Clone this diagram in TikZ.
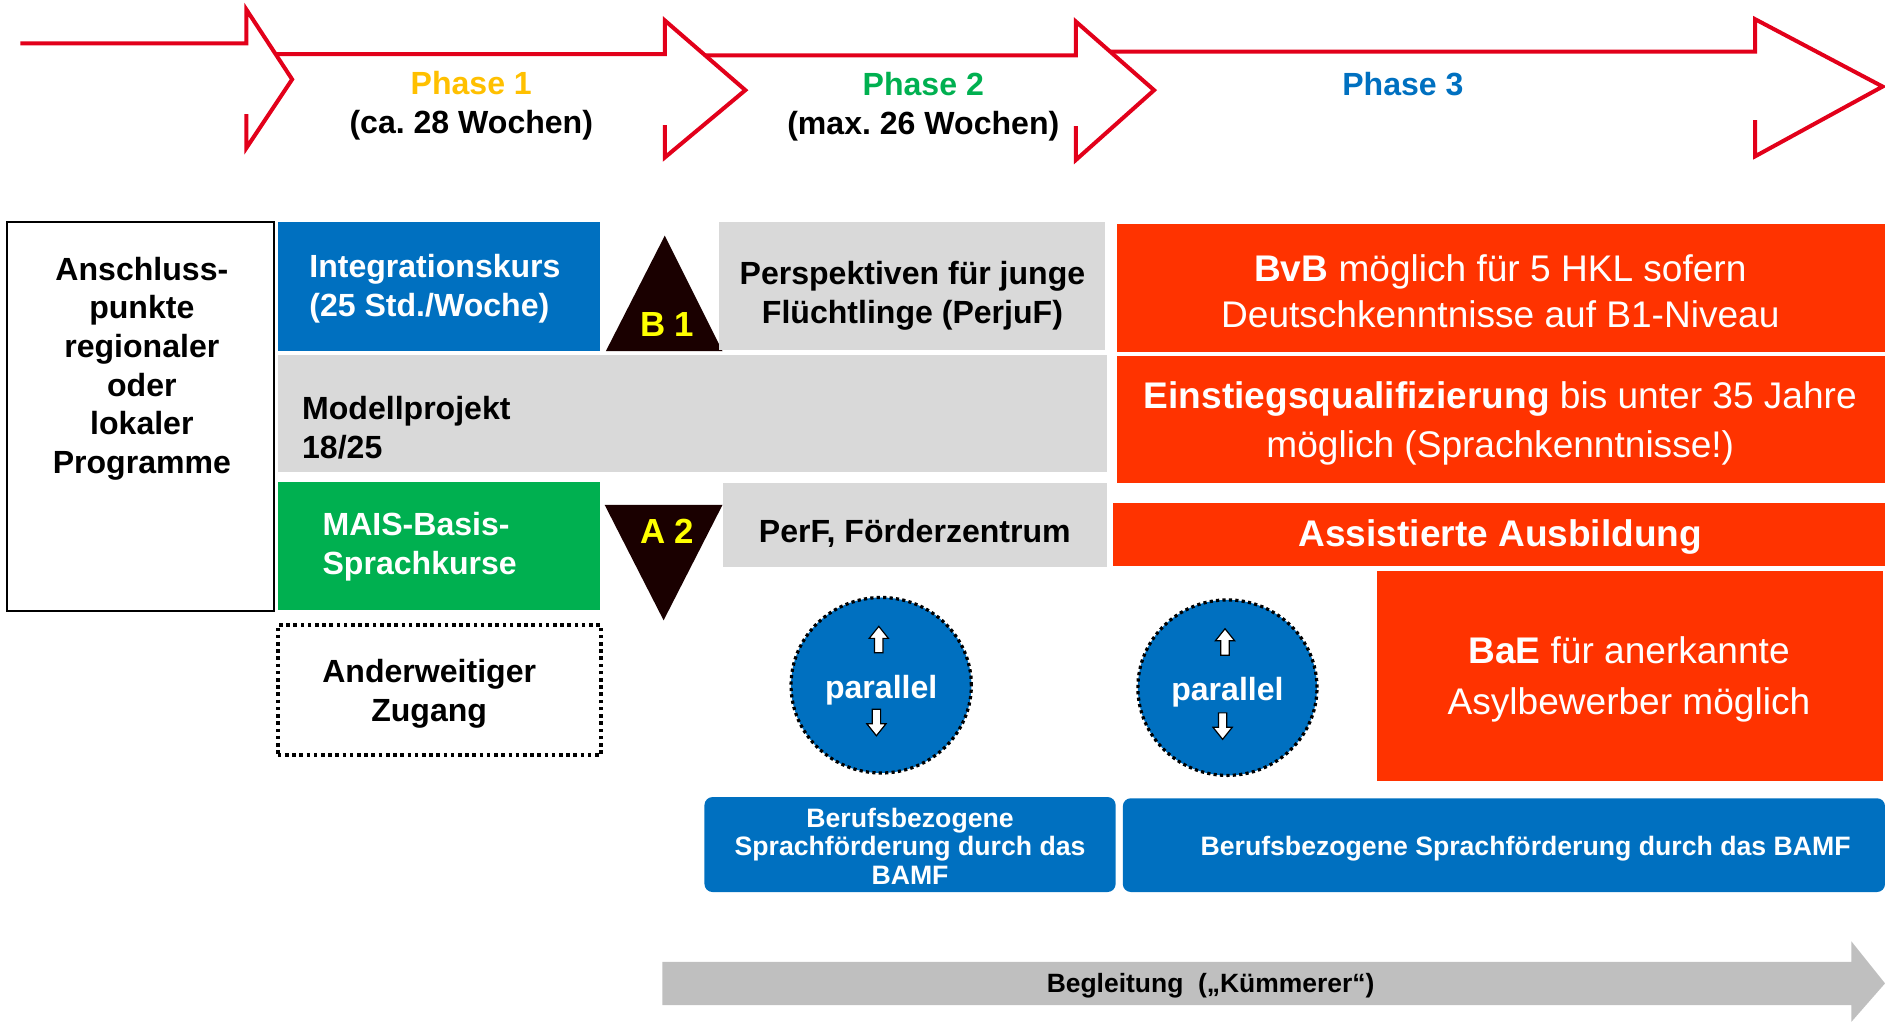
\documentclass[tikz,border=0pt]{standalone}
\usepackage{fontspec}
\setmainfont{Liberation Sans}
\usetikzlibrary{shapes.geometric}
\definecolor{phred}{RGB}{226,0,26}
\definecolor{phyellow}{RGB}{255,192,0}
\definecolor{msblue}{RGB}{0,112,192}
\definecolor{msgray}{RGB}{217,217,217}
\definecolor{msgreen}{RGB}{0,176,80}
\definecolor{msred}{RGB}{255,51,0}
\definecolor{trib}{RGB}{26,0,0}
\definecolor{arrgray}{RGB}{191,191,191}
\definecolor{labyellow}{RGB}{255,255,0}
\frenchspacing
\begin{document}
\begin{tikzpicture}[x=0.6pt,y=-0.6pt,
  phasearrow/.style={draw=phred, line width=2pt, miter limit=10},
  block/.style={rectangle, inner sep=0pt, outer sep=0pt, anchor=north west},
  fsB/.style={font=\fontsize{16}{19.3}\selectfont\bfseries, inner sep=0pt},
  fsR/.style={font=\fontsize{18.5}{23.5}\selectfont, text=white, align=center, inner sep=0pt},
  fsS/.style={font=\fontsize{13.3}{14.4}\selectfont\bfseries, text=white, align=center, inner sep=0pt},
  fsTri/.style={font=\fontsize{17.4}{20}\selectfont\bfseries, text=labyellow, inner sep=0pt},
  parcircle/.style={ellipse, fill=msblue, draw=black, line width=1.6pt, dash pattern=on 1.6pt off 1.6pt, inner sep=0pt},
  bamfbox/.style={block, fill=msblue, rounded corners=4pt},
  uparr/.pic={\draw[fill=white, line width=0.6pt, line join=miter] (0,-11) -- (8,-1) -- (3.5,-1) -- (3.5,11) -- (-3.5,11) -- (-3.5,-1) -- (-8,-1) -- cycle;}
]
\useasboundingbox (0,0) rectangle (1568,850);

% top phase arrows
\draw[phasearrow] (17,36) -- (205,36) -- (205,8) -- (243,66) -- (205,123) -- (205,95);
\draw[phasearrow] (229,45) -- (553,45) -- (553,17) -- (620,75) -- (553,131) -- (553,104);
\draw[phasearrow] (587,46) -- (895,46) -- (895,18) -- (960,75) -- (895,133) -- (895,105);
\draw[phasearrow] (924,43) -- (1460,43) -- (1460,16) -- (1566,72) -- (1460,130) -- (1460,100);

\node[fsB, text=phyellow] (ph1) at (392,69) {Phase 1};
\node[fsB] (ph1w) at (392,104) {(ca. 28 Wochen)};
\node[fsB, text=msgreen] (ph2) at (768,70) {Phase 2};
\node[fsB] (ph2w) at (768,105) {(max. 26 Wochen)};
\node[fsB, text=msblue] (ph3) at (1167,70) {Phase 3};

% left column
\node[block, draw=black, line width=1pt, fill=white, minimum width=133.2pt, minimum height=193.8pt] (anschl) at (6,185) {};
\node[fsB, align=center] (anschlT) at (118,306.5) {Anschluss-\\punkte\\regionaler\\oder\\lokaler\\Programme};

\node[block, fill=msblue, minimum width=160.8pt, minimum height=64.2pt] (integ) at (231,185) {};
\node[fsB, text=white, anchor=west, align=left] (integT) at (257,240) {Integrationskurs\\(25 Std./Woche)};

\node[block, fill=msgray, minimum width=414pt, minimum height=58.8pt] (modell) at (231,295) {};
\node[fsB, anchor=west, align=left] (modellT) at (251,356) {Modellprojekt\\18/25};

\node[block, fill=msgreen, minimum width=160.8pt, minimum height=63.6pt] (mais) at (231,401) {};
\node[fsB, text=white, anchor=west, align=left] (maisT) at (268,455) {MAIS-Basis-\\Sprachkurse};

\node[block, draw=black, line width=1.8pt, dash pattern=on 1.8pt off 1.8pt, minimum width=161.4pt, minimum height=64.8pt] (anderw) at (231,520) {};
\node[fsB, align=center] (anderwT) at (357,577) {Anderweitiger\\Zugang};

% triangles
\fill[trib] (553,196) -- (601,292) -- (504,292) -- cycle;
\node[fsTri] (b1) at (555,270) {B 1};
\fill[trib] (503,420) -- (601,420) -- (552,516) -- cycle;
\node[fsTri] (a2) at (555,442) {A 2};

% phase 2 boxes
\node[block, fill=msgray, minimum width=192.6pt, minimum height=63.6pt] (perjuf) at (598,185) {};
\node[fsB, align=center] (perjufT) at (759,246) {Perspektiven für junge\\Flüchtlinge (PerjuF)};
\node[block, fill=msgray, minimum width=192pt, minimum height=42pt] (perf) at (601,402) {};
\node[fsB] (perfT) at (761,444) {PerF, Förderzentrum};

% phase 3 red boxes
\node[block, fill=msred, minimum width=383.4pt, minimum height=64.2pt] (bvb) at (929,186) {};
\node[fsR, font=\fontsize{18.5}{22.8}\selectfont] (bvbT) at (1248,242) {\textbf{BvB} möglich für 5 HKL sofern\\Deutschkenntnisse auf B1-Niveau};
\node[block, fill=msred, minimum width=383.4pt, minimum height=63.6pt] (einst) at (929,296) {};
\node[fsR, font=\fontsize{18.5}{24.6}\selectfont] (einstT) at (1248,352) {\textbf{Einstiegsqualifizierung} bis unter 35 Jahre\\möglich (Sprachkenntnisse!)};
\node[block, fill=msred, minimum width=385.2pt, minimum height=31.8pt] (assist) at (926,418) {};
\node[fsR, font=\fontsize{18.5}{23.5}\selectfont\bfseries] (assistT) at (1248,447) {Assistierte Ausbildung};
\node[block, fill=msred, minimum width=252.6pt, minimum height=105pt] (bae) at (1145,475) {};
\node[fsR, font=\fontsize{18.5}{25.2}\selectfont] (baeT) at (1355,565) {\textbf{BaE} für anerkannte\\Asylbewerber möglich};

% parallel circles
\node[parcircle, minimum width=90pt, minimum height=87.6pt] (par1) at (733,570) {};
\node[fsB, text=white] (par1T) at (733,574) {parallel};
\pic at (731,532) {uparr};
\pic[rotate=180] at (729,601) {uparr};
\node[parcircle, minimum width=89.4pt, minimum height=87.6pt] (par2) at (1021,572) {};
\node[fsB, text=white] (par2T) at (1021,576) {parallel};
\pic at (1019,534) {uparr};
\pic[rotate=180] at (1017,604) {uparr};

% BAMF boxes
\node[bamfbox, minimum width=205.2pt, minimum height=47.4pt] (bamf1) at (586,663) {};
\node[fsS] (bamf1T) at (757,704) {Berufsbezogene\\Sprachförderung durch das\\BAMF};
\node[bamfbox, minimum width=380.4pt, minimum height=46.8pt] (bamf2) at (934,664) {};
\node[fsS] (bamf2T) at (1269,706) {Berufsbezogene Sprachförderung durch das BAMF};

% bottom arrow
\fill[arrgray] (551,800) -- (1540,800) -- (1540,783) -- (1568,818) -- (1540,850) -- (1540,836) -- (551,836) -- cycle;
\node[font=\fontsize{13.2}{15}\selectfont\bfseries, inner sep=0pt] (begl) at (1007,820) {Begleitung\ \ („Kümmerer“)};
\end{tikzpicture}
\end{document}
